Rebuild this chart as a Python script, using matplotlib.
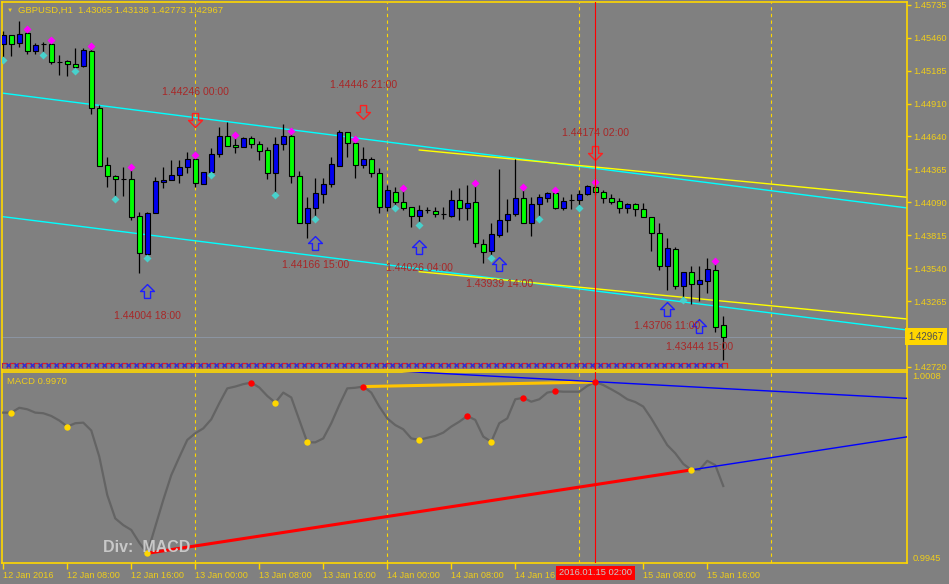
import matplotlib
matplotlib.use("Agg")
import matplotlib.pyplot as plt
from matplotlib.path import Path

W, H = 949, 584
BG = "#808080"
GOLD = "#FFD700"
TXT = "#F0CE1A"
plt.rcParams["font.family"] = ["Liberation Sans", "DejaVu Sans"]

# ---- GBPUSD H1 candles (bar 0 = 12 Jan 2016 00:00)
opens = [1.45407, 1.45482, 1.45416, 1.45499, 1.45349, 1.45407, 1.45407, 1.45257, 1.45262, 1.45241,
         1.45227, 1.45349, 1.44874, 1.44399, 1.44307, 1.44282, 1.44282, 1.43974, 1.43657, 1.43999,
         1.44257, 1.44274, 1.44316, 1.44382, 1.44449, 1.44241, 1.44343, 1.44491, 1.44641, 1.44566,
         1.44549, 1.44624, 1.44574, 1.44522, 1.44335, 1.44572, 1.44638, 1.44305, 1.43913, 1.44038,
         1.44160, 1.44238, 1.44393, 1.44672, 1.44580, 1.44397, 1.44447, 1.44330, 1.44052, 1.44172,
         1.44088, 1.44047, 1.43977, 1.44024, 1.44013, 1.43988, 1.43974, 1.44107, 1.44038, 1.44088,
         1.43738, 1.43685, 1.43816, 1.43941, 1.43988, 1.44122, 1.43913, 1.44072, 1.44127, 1.44163,
         1.44038, 1.44107, 1.44105, 1.44155, 1.44218, 1.44172, 1.44122, 1.44099, 1.44038, 1.44072,
         1.44030, 1.43963, 1.43830, 1.43560, 1.43697, 1.43393, 1.43505, 1.43407, 1.43435, 1.43524,
         1.43065]
highs = [1.45516, 1.45482, 1.45599, 1.45516, 1.45416, 1.45420, 1.45424, 1.45316, 1.45274, 1.45374,
         1.45374, 1.45374, 1.44899, 1.44466, 1.44316, 1.44382, 1.44366, 1.44007, 1.44010, 1.44299,
         1.44382, 1.44441, 1.44441, 1.44507, 1.44466, 1.44343, 1.44541, 1.44716, 1.44757, 1.44632,
         1.44632, 1.44641, 1.44602, 1.44552, 1.44635, 1.44738, 1.44666, 1.44349, 1.44135, 1.44291,
         1.44288, 1.44468, 1.44691, 1.44672, 1.44593, 1.44552, 1.44463, 1.44372, 1.44232, 1.44218,
         1.44191, 1.44047, 1.44066, 1.44052, 1.44047, 1.44052, 1.44191, 1.44205, 1.44232, 1.44232,
         1.43780, 1.43913, 1.44366, 1.44116, 1.44447, 1.44197, 1.44135, 1.44155, 1.44172, 1.44172,
         1.44130, 1.44155, 1.44191, 1.44232, 1.44241, 1.44191, 1.44157, 1.44122, 1.44085, 1.44085,
         1.44085, 1.43963, 1.43913, 1.43788, 1.43718, 1.43505, 1.43557, 1.43557, 1.43627, 1.43580,
         1.43138]
lows = [1.45291, 1.45307, 1.45382, 1.45324, 1.45324, 1.45332, 1.45241, 1.45149, 1.45141, 1.45199,
        1.45216, 1.44824, 1.44391, 1.44216, 1.44132, 1.44141, 1.43941, 1.43499, 1.43635, 1.43999,
        1.44207, 1.44274, 1.44249, 1.44332, 1.44216, 1.44241, 1.44332, 1.44466, 1.44557, 1.44502,
        1.44547, 1.44541, 1.44441, 1.44285, 1.44166, 1.44524, 1.44249, 1.43913, 1.43788, 1.43968,
        1.44080, 1.44218, 1.44393, 1.44468, 1.44293, 1.44372, 1.44297, 1.44002, 1.44018, 1.44052,
        1.44024, 1.43885, 1.43913, 1.43997, 1.43963, 1.43949, 1.43963, 1.43941, 1.43941, 1.43718,
        1.43585, 1.43635, 1.43802, 1.43843, 1.43974, 1.43913, 1.43807, 1.43968, 1.44093, 1.44032,
        1.44024, 1.44032, 1.44052, 1.44149, 1.44149, 1.44080, 1.44074, 1.44002, 1.44002, 1.43974,
        1.43963, 1.43685, 1.43524, 1.43357, 1.43366, 1.43288, 1.43238, 1.43266, 1.43330, 1.43010,
        1.42773]
closes = [1.45482, 1.45407, 1.45491, 1.45349, 1.45399, 1.45407, 1.45257, 1.45257, 1.45237, 1.45216,
          1.45357, 1.44874, 1.44393, 1.44307, 1.44282, 1.44282, 1.43968, 1.43666, 1.43999, 1.44266,
          1.44274, 1.44316, 1.44382, 1.44449, 1.44249, 1.44341, 1.44491, 1.44641, 1.44560, 1.44547,
          1.44624, 1.44574, 1.44518, 1.44335, 1.44572, 1.44638, 1.44305, 1.43913, 1.44043, 1.44163,
          1.44238, 1.44405, 1.44672, 1.44580, 1.44397, 1.44447, 1.44330, 1.44052, 1.44191, 1.44088,
          1.44043, 1.43977, 1.44024, 1.44024, 1.43988, 1.43988, 1.44107, 1.44038, 1.44080, 1.43747,
          1.43677, 1.43822, 1.43941, 1.43988, 1.44122, 1.43913, 1.44072, 1.44130, 1.44163, 1.44038,
          1.44097, 1.44107, 1.44155, 1.44224, 1.44172, 1.44122, 1.44093, 1.44038, 1.44072, 1.44030,
          1.43963, 1.43830, 1.43560, 1.43705, 1.43393, 1.43505, 1.43405, 1.43441, 1.43530, 1.43052,
          1.42967]

# fractal markers
high_fractals = [3, 6, 11, 16, 24, 29, 36, 44, 50, 59, 65, 69, 74, 89]
low_fractals = [0, 5, 9, 14, 18, 26, 34, 39, 49, 52, 61, 67, 72, 85]

# divergence arrows and their labels
up_bars = [18, 39, 52, 62, 83, 87]
up_arrow_prices = [1.43349, 1.43752, 1.43718, 1.43574, 1.43199, 1.43057]
up_label_prices = [1.43141, 1.43566, 1.43541, 1.43407, 1.43060, 1.42880]
up_labels = ["1.44004 18:00", "1.44166 15:00", "1.44026 04:00", "1.43939 14:00",
             "1.43706 11:00", "1.43444 15:00"]
down_bars = [24, 45, 74]
down_arrow_prices = [1.44774, 1.44843, 1.44502]
down_label_prices = [1.45007, 1.45066, 1.44663]
down_labels = ["1.44246 00:00", "1.44446 21:00", "1.44174 02:00"]

# channel lines: (bar, price) end points
cyan_upper = ([0, 113], [1.44997, 1.44041])
cyan_lower = ([0, 113], [1.43968, 1.43024])
yellow_upper = ([52, 113], [1.44524, 1.44130])
yellow_lower = ([52, 113], [1.43510, 1.43116])

separator_bars = [24, 48, 72, 96]
crosshair_bar = 74
bid_price = 1.42967

price_ticks = [1.45735, 1.45460, 1.45185, 1.44910, 1.44640, 1.44365, 1.44090,
               1.43815, 1.43540, 1.43265, 1.42720]

xtick_bars = [0, 8, 16, 24, 32, 40, 48, 56, 64, 80, 88]
xtick_labels = ["12 Jan 2016", "12 Jan 08:00", "12 Jan 16:00", "13 Jan 00:00", "13 Jan 08:00",
                "13 Jan 16:00", "14 Jan 00:00", "14 Jan 08:00", "14 Jan 16", "15 Jan 08:00",
                "15 Jan 16:00"]

# ---- MACD subwindow
macd = [0.99946, 0.99946, 0.99962, 0.99957, 0.99946, 0.99944, 0.99935, 0.99920, 0.99900, 0.99911,
        0.99913, 0.99887, 0.99801, 0.99674, 0.99597, 0.99575, 0.99559, 0.99517, 0.99482, 0.99570,
        0.99658, 0.99740, 0.99799, 0.99856, 0.99878, 0.99894, 0.99924, 0.99977, 1.00026, 1.00032,
        1.00040, 1.00045, 1.00029, 1.00001, 0.99979, 1.00012, 0.99996, 0.99922, 0.99848, 0.99848,
        0.99861, 0.99911, 0.99971, 1.00026, 1.00028, 1.00032, 1.00012, 0.99966, 0.99927, 0.99905,
        0.99891, 0.99861, 0.99856, 0.99863, 0.99869, 0.99880, 0.99900, 0.99916, 0.99935, 0.99922,
        0.99867, 0.99850, 0.99911, 0.99927, 0.99990, 0.99995, 0.99982, 0.99990, 1.00012, 1.00017,
        1.00015, 1.00015, 1.00015, 1.00034, 1.00047, 1.00037, 1.00023, 1.00008, 0.99990, 0.99981,
        0.99966, 0.99927, 0.99883, 0.99839, 0.99812, 0.99777, 0.99757, 0.99757, 0.99787, 0.99773,
        0.99704]
yellow_dots = [1, 8, 18, 34, 38, 52, 61, 86]
red_dots = [31, 45, 58, 65, 69, 74]
bull_div = (18, 86)
bear_div = (45, 74)
blue_upper = ([50, 113], [1.00082, 0.99993])
macd_ticks = [1.0008, 0.9945]


def fx(x):
    return x / W


def fy(y):
    return 1 - y / H


fig = plt.figure(figsize=(W / 100, H / 100), dpi=100, facecolor=BG)
ax1 = fig.add_axes([fx(2), fy(370), (906.7 - 2) / W, (370 - 2) / H], facecolor=BG)
ax2 = fig.add_axes([fx(2), fy(563), (906.7 - 2) / W, (563 - 372) / H], facecolor=BG)

for ax in (ax1, ax2):
    ax.set_xlim(-0.16, 112.93)
    for s in ax.spines.values():
        s.set_color(GOLD)
        s.set_linewidth(1.2)
    for b in separator_bars:
        ax.axvline(b, color=GOLD, lw=0.8, ls=(0, (3, 3)), zorder=1)
    ax.axvline(crosshair_bar, color="red", lw=0.8, zorder=6)

ax1.set_ylim(1.42691, 1.45757)
ax2.set_ylim(0.9945, 1.0008)

# channel lines
for xs, ys in (cyan_upper, cyan_lower):
    ax1.plot(xs, ys, color="#00FFFF", lw=1.0, zorder=2)
for xs, ys in (yellow_upper, yellow_lower):
    ax1.plot(xs, ys, color="#FFFF00", lw=1.0, zorder=2)
ax1.axhline(bid_price, color="#8C95A3", lw=0.7, zorder=1.5)

# candles
idx = list(range(len(closes)))
body_colors = []
for o, c in zip(opens, closes):
    if c > o:
        body_colors.append("#0000F0")
    elif c < o:
        body_colors.append("#00FF00")
    else:
        body_colors.append("black")
ax1.vlines(idx, lows, highs, color="black", lw=0.9, zorder=3)
ax1.bar(idx, [abs(c - o) for o, c in zip(opens, closes)],
        bottom=[min(o, c) for o, c in zip(opens, closes)],
        width=0.62, color=body_colors, edgecolor="black", linewidth=0.8, zorder=4)

ax1.plot(high_fractals, [highs[i] + 0.0002 for i in high_fractals], "D",
         ms=4.4, color="#FF00FF", mec="none", zorder=5)
ax1.plot(low_fractals, [lows[i] - 0.00015 for i in low_fractals], "D",
         ms=4.4, color="#48D1CC", mec="none", zorder=5)

# hollow arrows
up_path = Path([(-0.22, -0.5), (0.22, -0.5), (0.22, 0.0), (0.5, 0.0), (0, 0.5),
                (-0.5, 0.0), (-0.22, 0.0), (-0.22, -0.5)])
down_path = Path([(x, -y) for x, y in up_path.vertices])
ax1.plot(up_bars, up_arrow_prices, ls="none", marker=up_path, ms=10, mfc="none",
         mec="#1E1EFF", mew=1.0, zorder=5)
ax1.plot(down_bars, down_arrow_prices, ls="none", marker=down_path, ms=10, mfc="none",
         mec="#FF2020", mew=1.0, zorder=5)
for b, p, t in zip(up_bars + down_bars, up_label_prices + down_label_prices, up_labels + down_labels):
    ax1.text(b, p, t, color="#A82828", fontsize=7.6, ha="center", va="center", zorder=6)

# bottom strip of signal glyphs
strip_price = 1.42732
cap_path = Path([(-0.5, -0.5), (-0.5, 0.5), (0.5, 0.5), (0.5, -0.5)])
ax1.plot([i + 0.15 for i in idx], [strip_price] * len(idx), ls="none", marker=cap_path,
         ms=3.6, mfc="none", mec="#E02020", mew=0.9, zorder=5)
ax1.plot([i - 0.35 for i in idx], [strip_price] * len(idx), ls="none", marker="x",
         ms=2.6, mec="#2030E0", mew=0.9, zorder=5)

# price axis
ax1.set_xticks([])
ax1.yaxis.tick_right()
ax1.set_yticks(price_ticks)
ax1.set_yticklabels([f"{p:.5f}" for p in price_ticks])
ax1.tick_params(axis="y", colors=GOLD, labelcolor=TXT, length=3, width=1, pad=2, labelsize=6.7)
ax1.text(1.0015, bid_price, f"{bid_price:.5f}", transform=ax1.get_yaxis_transform(),
         ha="left", va="center", fontsize=7, color="#505050", zorder=10,
         bbox=dict(boxstyle="square,pad=0.35", fc=GOLD, ec="none"))

# header
fig.text(fx(7), fy(10), "\u25bc", color=TXT, fontsize=4.5, ha="left", va="center")
fig.text(fx(18), fy(10), "GBPUSD,H1  1.43065 1.43138 1.42773 1.42967", color=TXT,
         fontsize=6.8, ha="left", va="center")

# MACD panel
ax2.plot(idx, macd, color="#646464", lw=1.6, zorder=3)
ax2.plot(bull_div, [macd[i] for i in bull_div], color="#FF0000", lw=2.2, zorder=4)
slope = (macd[bull_div[1]] - macd[bull_div[0]]) / (bull_div[1] - bull_div[0])
ax2.plot([bull_div[1], 113], [macd[bull_div[1]], macd[bull_div[1]] + slope * (113 - bull_div[1])],
         color="#0000FF", lw=1.0, zorder=4)
ax2.plot(bear_div, [macd[i] for i in bear_div], color="#FFC400", lw=2.2, zorder=4)
ax2.plot(*blue_upper, color="#0000FF", lw=1.0, zorder=4)
ax2.plot(yellow_dots, [macd[i] for i in yellow_dots], "o", ms=4.6, color="#FFD700", mec="none", zorder=5)
ax2.plot(red_dots, [macd[i] for i in red_dots], "o", ms=4.6, color="#FF0000", mec="none", zorder=5)

ax2.set_yticks([])
ytr = ax2.get_yaxis_transform()
ax2.text(1.006, macd_ticks[0], f"{macd_ticks[0]:.4f}", transform=ytr, ha="left", va="top",
         fontsize=6.7, color=TXT)
ax2.text(1.006, macd_ticks[1], f"{macd_ticks[1]:.4f}", transform=ytr, ha="left", va="bottom",
         fontsize=6.7, color=TXT)
ax2.text(0.006, 0.95, f"MACD {macd[-1]:.4f}", transform=ax2.transAxes, ha="left", va="center",
         fontsize=6.8, color=TXT)
fig.text(fx(103), fy(548), "Div:  MACD", color="#C8C8C8", fontsize=11.5, fontweight="bold",
         ha="left", va="center", zorder=10)

ax2.set_xticks(xtick_bars)
ax2.set_xticklabels(xtick_labels, ha="left")
ax2.tick_params(axis="x", colors=GOLD, labelcolor=TXT, length=4, width=1, pad=1.5, labelsize=6.6)
ax2.text(crosshair_bar, -0.052, "2016.01.15 02:00", transform=ax2.get_xaxis_transform(),
         ha="center", va="center", fontsize=6.7, color="#C8C8C8", zorder=10,
         bbox=dict(boxstyle="square,pad=0.3", fc="#FF0000", ec="none"))

fig.savefig("out.png", dpi=100, facecolor=BG)
